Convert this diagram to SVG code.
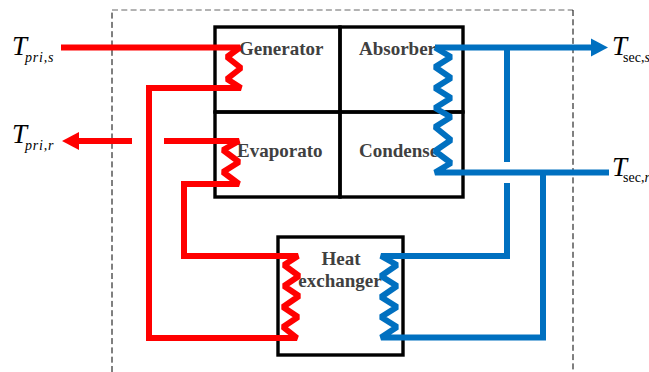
<svg xmlns="http://www.w3.org/2000/svg" width="649" height="372" viewBox="0 0 649 372">
<style>
.box{fill:none;stroke:#000;stroke-width:3.4}
.dash{fill:none;stroke:#000;stroke-width:1;stroke-dasharray:6 3.3}
.dashg{fill:none;stroke:#666;stroke-width:1;stroke-dasharray:6 3.3}
.red{fill:none;stroke:#f00;stroke-width:6;stroke-linejoin:miter;stroke-miterlimit:1.5}
.blue{fill:none;stroke:#0070c0;stroke-width:6;stroke-linejoin:miter;stroke-miterlimit:1.5}
.lab{font-family:"Liberation Serif",serif;font-weight:bold;font-size:19px;fill:#404040}
.t{font-family:"Liberation Serif",serif;font-style:italic;font-size:27px;fill:#000}
.s{font-family:"Liberation Serif",serif;font-size:14px;fill:#000}
.i{font-style:italic}
</style>
<rect width="649" height="372" fill="#fff"/>
<g id="boundary">
<path class="dash" d="M112 372V10"/>
<path class="dashg" d="M112 10H573"/>
<path class="dash" d="M573 10V372"/>
</g>
<g id="generator"><rect class="box" x="215" y="27" width="125" height="85"/><text class="lab" x="239" y="55">Generator</text></g>
<g id="absorber"><rect class="box" x="340" y="27" width="123" height="85"/><text class="lab" x="359" y="55">Absorber</text></g>
<g id="evaporator"><rect class="box" x="215" y="112" width="125" height="85"/><text class="lab" x="237" y="157">Evaporato</text></g>
<g id="condenser"><rect class="box" x="340" y="112" width="123" height="85"/><text class="lab" x="359" y="157">Condense</text></g>
<g id="heat-exchanger"><rect class="box" x="278" y="237" width="125" height="118"/><text class="lab" x="341" y="265" text-anchor="middle">Heat</text><text class="lab" x="340" y="287" text-anchor="middle">exchanger</text></g>
<g id="connectors">
<path class="red" d="M61 47.500H240L227 57L241 68L227 79L241 88H149V338H297L283 327L298 317L283 307L299 296L284 286L299 276L284 265L298 256H184V184H239L223 172L239 162L223 150L239 141H164"/>
<path class="red" d="M132 141H78"/>
<polygon points="62,141 79,132 79,150" fill="#f00"/>
<path class="blue" d="M435 47.500H594"/>
<polygon points="608,47.500 591,38.500 591,56.500" fill="#0070c0"/>
<path class="blue" d="M435 47.500L451 57L435 67L451 78L435 88L451 98L435 108L451 117L435 127L451 140L435 151L451 163L435 172.500H609"/>
<path class="blue" d="M507 47.500V162M507 183V256H381L397 265L381 276L397 286L381 297L397 307L381 317L397 327L381 337.500H543V172.500"/>
</g>
<g id="labels">
<text class="t" x="12" y="55">T</text><text class="s i" x="25" y="62" letter-spacing="0.800">pri,s</text>
<text class="t" x="12" y="143">T</text><text class="s i" x="25" y="150" letter-spacing="0.800">pri,r</text>
<text class="t" x="612" y="55">T</text><text class="s" x="623" y="62">sec,<tspan class="i">s</tspan></text>
<text class="t" x="612" y="176">T</text><text class="s" x="623" y="182">sec,<tspan class="i">r</tspan></text>
</g>
</svg>
